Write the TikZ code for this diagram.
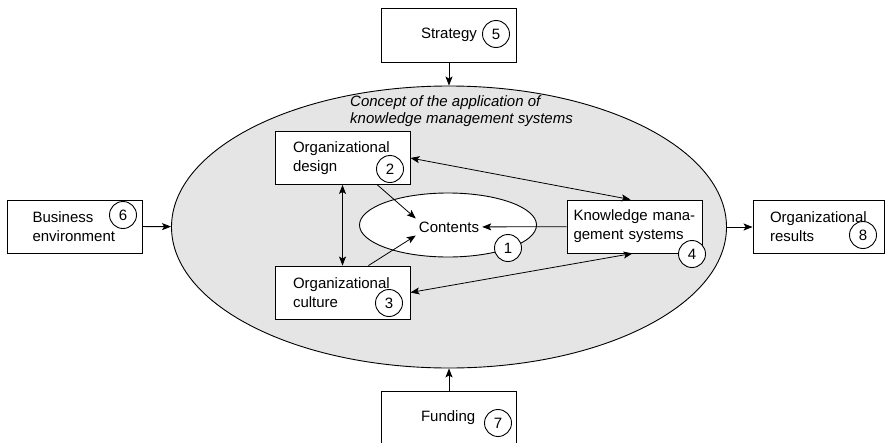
\documentclass[tikz,border=0pt]{standalone}
\usepackage{fontspec}
\setmainfont{Liberation Sans}
\usetikzlibrary{shapes.geometric, arrows.meta}

\begin{document}
\begin{tikzpicture}[
    x=1pt, y=-1pt,
    every node/.style={font=\fontsize{15}{19}\selectfont},
    box/.style={draw, fill=white, line width=0.9pt, minimum width=135pt, minimum height=53pt, align=left, inner sep=0pt},
    num/.style={draw, circle, fill=white, line width=0.9pt, minimum size=27pt, inner sep=0pt},
    link/.style={draw, line width=0.8pt, -{Stealth[length=9pt, width=7pt, inset=2pt]}},
    twoway/.style={link, {Stealth[length=9pt, width=7pt, inset=2pt]}-{Stealth[length=9pt, width=7pt, inset=2pt]}}
]
\useasboundingbox (0,0) rectangle (885,442);

\node[ellipse, draw, fill=gray!20, line width=0.9pt, minimum width=555pt, minimum height=282pt] (concept) at (449,227) {};
\node[anchor=north west, align=left, inner sep=0pt, font=\itshape\fontsize{15}{17}\selectfont] (clabel) at (350,95) {Concept of the application of\\knowledge management systems};

\node[ellipse, draw, fill=white, line width=0.9pt, minimum width=177pt, minimum height=64pt, inner sep=0pt] (cont) at (448,225) {};
\node[inner sep=3pt] (ctext) at (449,227) {Contents};

\node[box, text width=99pt] (design) at (342.5,158) {Organizational\\design};
\node[box, text width=99pt] (culture) at (342.5,292.5) {Organizational\\culture};
\node[box, text width=122pt] (kms) at (634.5,226.5) {Knowledge mana-\\gement systems};
\node[box, text width=84pt] (biz) at (74.5,226.5) {Business\\environment};
\node[box, minimum width=131pt, text width=97pt] (res) at (818.5,227) {Organizational\\results};
\node[box, minimum height=54pt, text width=56pt] (strat) at (449,35) {Strategy};
\node[box, minimum height=54pt, text width=56pt] (fund) at (449,418) {Funding};

\node[num] (n1) at (508,248) {1};
\node[num] (n2) at (390,169) {2};
\node[num] (n3) at (389,303) {3};
\node[num] (n4) at (692,254) {4};
\node[num] (n5) at (496,34) {5};
\node[num] (n6) at (123,215) {6};
\node[num] (n7) at (498,423) {7};
\node[num] (n8) at (863,235) {8};

\draw[link] (strat) -- (concept);
\draw[link] (fund) -- (concept);
\draw[link] (biz) -- (concept);
\draw[link] (concept) -- (res);
\draw[link] (kms) -- (ctext);
\draw[link] ([xshift=-33pt]design.south east) -- (ctext.north west);
\draw[link] ([xshift=-42pt]culture.north east) -- (ctext.south west);
\draw[twoway] (design) -- (culture);
\draw[twoway] (design.east) -- ([xshift=-4pt]kms.north);
\draw[twoway] (culture.east) -- ([xshift=-2pt]kms.south);
\end{tikzpicture}
\end{document}
